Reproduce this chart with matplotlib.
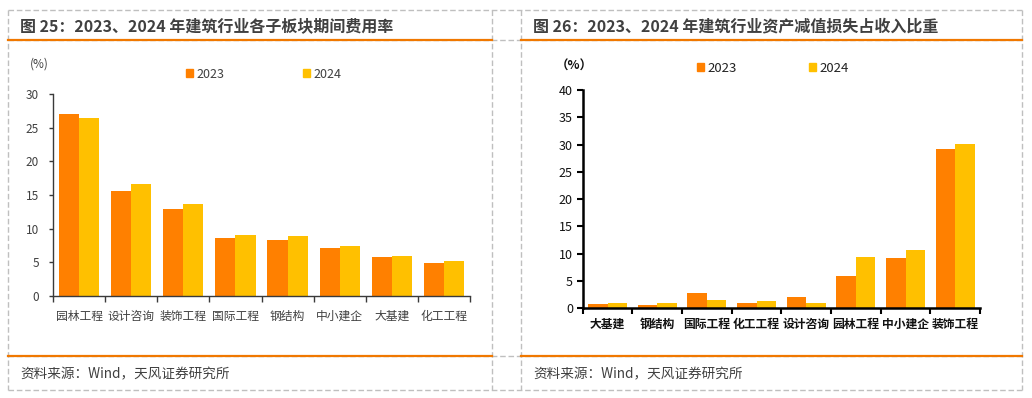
import matplotlib
matplotlib.use("Agg")
import matplotlib.pyplot as plt
import numpy as np
from matplotlib.lines import Line2D
from matplotlib.patches import Patch

plt.rcParams["font.family"] = ["Noto Sans CJK SC", "DejaVu Sans"]

# ── Data ───────────────────────────────────────────────────────────────────
left_title = "图 25：2023、2024 年建筑行业各子板块期间费用率"
left_cats = ["园林工程", "设计咨询", "装饰工程", "国际工程", "钢结构", "中小建企", "大基建", "化工工程"]
left_2023 = [27.1, 15.6, 12.9, 8.6, 8.3, 7.2, 5.8, 4.9]
left_2024 = [26.4, 16.7, 13.7, 9.1, 8.9, 7.5, 5.9, 5.25]

right_title = "图 26：2023、2024 年建筑行业资产减值损失占收入比重"
right_cats = ["大基建", "钢结构", "国际工程", "化工工程", "设计咨询", "园林工程", "中小建企", "装饰工程"]
right_2023 = [0.8, 0.6, 2.85, 1.0, 2.1, 6.0, 9.3, 29.2]
right_2024 = [1.0, 1.0, 1.5, 1.35, 1.0, 9.45, 10.6, 30.1]

source = "资料来源：Wind，天风证券研究所"
years = ["2023", "2024"]

C23 = "#FF8000"
C24 = "#FFC000"
ORANGE = "#F07800"
GRID = "#BFBFBF"
TXT = "#404040"

W, H = 1032, 398
fig = plt.figure(figsize=(W / 100, H / 100), dpi=100)
fig.patch.set_facecolor("white")


def fx(px):
    return px / W


def fy(py):
    return 1 - py / H


def hline(x0, x1, y, **kw):
    fig.add_artist(Line2D([fx(x0), fx(x1)], [fy(y), fy(y)], transform=fig.transFigure, **kw))


def vline(x, y0, y1, **kw):
    fig.add_artist(Line2D([fx(x), fx(x)], [fy(y0), fy(y1)], transform=fig.transFigure, **kw))


# ── Frame (dashed table grid + orange rules) ───────────────────────────────
dash = dict(color=GRID, lw=1.0, ls=(0, (4, 2)))
for y in (10, 40, 356, 390):
    hline(8, 1022, y, **dash)
for x in (8, 492, 521, 1022):
    vline(x, 10, 390, **dash)
for x0, x1 in ((8, 492), (521, 1022)):
    hline(x0, x1, 40, color=ORANGE, lw=1.6)
    hline(x0, x1, 356, color=ORANGE, lw=1.6)

fig.text(fx(20), fy(26), left_title, fontsize=11.5, fontweight="bold", color=TXT, va="center")
fig.text(fx(533), fy(26), right_title, fontsize=11.5, fontweight="bold", color=TXT, va="center")
fig.text(fx(20), fy(374), source, fontsize=9.8, color=TXT, va="center")
fig.text(fx(533), fy(374), source, fontsize=9.8, color=TXT, va="center")


def make_axes(x0, x1, ytop, ybot):
    return fig.add_axes([fx(x0), fy(ybot), fx(x1) - fx(x0), fy(ytop) - fy(ybot)])


# ── Left chart ─────────────────────────────────────────────────────────────
ax = make_axes(53, 470, 94, 296)
x = np.arange(len(left_cats))
bw = 0.385
ax.bar(x - bw / 2, left_2023, bw, color=C23, label=years[0])
ax.bar(x + bw / 2, left_2024, bw, color=C24, label=years[1])
ax.set_xlim(-0.5, len(left_cats) - 0.5)
ax.set_ylim(0, 30)
ax.set_yticks(range(0, 31, 5))
ax.set_xticks(x)
ax.set_xticklabels(left_cats)
ax.set_xticks(np.arange(-0.5, len(left_cats)), minor=True)
for s in ("top", "right"):
    ax.spines[s].set_visible(False)
for s in ("left", "bottom"):
    ax.spines[s].set_color("#3a3a3a")
    ax.spines[s].set_linewidth(1.0)
ax.tick_params(axis="y", length=3, width=1, color="#3a3a3a", labelsize=8.5, labelcolor=TXT, pad=7)
ax.tick_params(axis="x", which="major", length=0, labelsize=8.5, labelcolor=TXT, pad=10)
ax.tick_params(axis="x", which="minor", length=4, width=1, color="#3a3a3a", direction="out")
fig.text(fx(30), fy(64), "(%)", fontsize=8.5, color=TXT, va="center")
handles = [Patch(color=C23), Patch(color=C24)]
fig.legend(handles, years, loc="center left", bbox_to_anchor=(fx(180), fy(74)),
           ncol=2, frameon=False, fontsize=9, handlelength=0.55, handleheight=0.55,
           handletextpad=0.25, columnspacing=6.3, borderpad=0, labelcolor=TXT)

# ── Right chart ────────────────────────────────────────────────────────────
ax2 = make_axes(582.7, 980, 90, 308.3)
x2 = np.arange(len(right_cats))
bw2 = 0.39
ax2.bar(x2 - bw2 / 2, right_2023, bw2, color=C23)
ax2.bar(x2 + bw2 / 2, right_2024, bw2, color=C24)
ax2.set_xlim(-0.5, len(right_cats) - 0.5)
ax2.set_ylim(0, 40)
ax2.set_yticks(range(0, 41, 5))
ax2.set_xticks(x2)
ax2.set_xticklabels(right_cats, fontweight="bold")
ax2.set_xticks(np.arange(-0.5, len(right_cats)), minor=True)
for s in ("top", "right"):
    ax2.spines[s].set_visible(False)
for s in ("left", "bottom"):
    ax2.spines[s].set_color("black")
    ax2.spines[s].set_linewidth(1.8)
ax2.tick_params(axis="y", length=4, width=1.5, color="black", labelsize=9, labelcolor="#111111", pad=3)
ax2.tick_params(axis="x", which="major", length=0, labelsize=8.5, labelcolor="#111111", pad=7)
ax2.tick_params(axis="x", which="minor", length=4, width=1.5, color="black", direction="out")
fig.text(fx(556), fy(66), "（%）", fontsize=9, fontweight="bold", color="#111111", va="center")
fig.legend(handles, years, loc="center left", bbox_to_anchor=(fx(690), fy(68)),
           ncol=2, frameon=False, fontsize=9.5, handlelength=0.55, handleheight=0.55,
           handletextpad=0.25, columnspacing=5.5, borderpad=0, labelcolor="#222222")

fig.savefig("out.png", dpi=100)
